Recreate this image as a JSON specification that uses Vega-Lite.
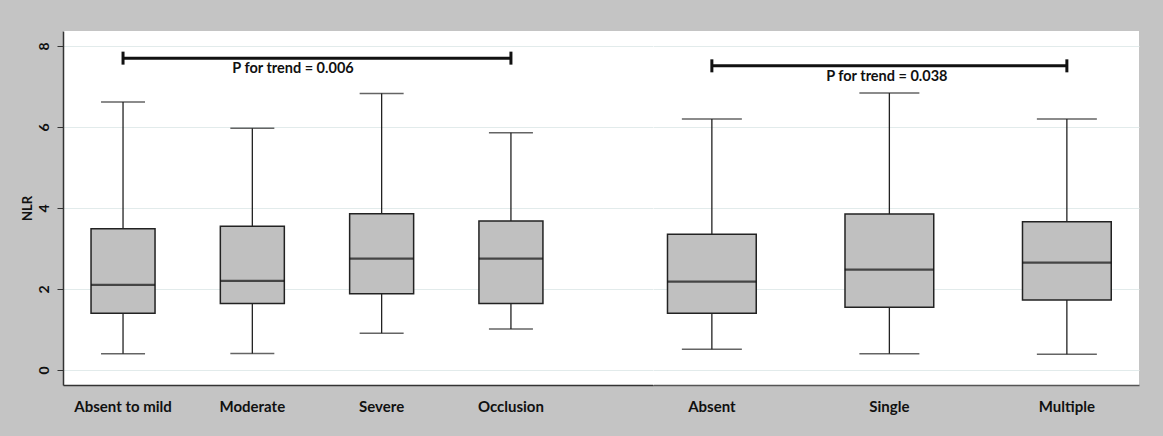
{
  "$schema": "https://vega.github.io/schema/vega-lite/v6.json",
  "background": "#c4c4c4",
  "padding": {"left": 21, "top": 31, "right": 29, "bottom": 22},
  "spacing": 0,
  "config": {
    "font": "Lato",
    "view": {"stroke": null, "fill": "white"},
    "axis": {
      "labelFont": "Lato", "labelFontWeight": "bold", "labelFontSize": 15, "labelColor": "#111",
      "titleFont": "Lato", "titleFontWeight": "bold", "titleFontSize": 13, "titleColor": "#111",
      "gridColor": "#e2ebeb", "gridWidth": 1, "domainColor": "#333", "domainWidth": 1.5,
      "tickColor": "#333", "tickWidth": 1
    }
  },
  "datasets": {
    "stenosis": [
      {"group": "Absent to mild", "min": 0.40, "q1": 1.40, "median": 2.10, "q3": 3.49, "max": 6.62},
      {"group": "Moderate", "min": 0.41, "q1": 1.64, "median": 2.20, "q3": 3.55, "max": 5.97},
      {"group": "Severe", "min": 0.91, "q1": 1.88, "median": 2.75, "q3": 3.86, "max": 6.83},
      {"group": "Occlusion", "min": 1.01, "q1": 1.64, "median": 2.75, "q3": 3.68, "max": 5.86}
    ],
    "lesions": [
      {"group": "Absent", "min": 0.51, "q1": 1.40, "median": 2.18, "q3": 3.35, "max": 6.20},
      {"group": "Single", "min": 0.40, "q1": 1.55, "median": 2.48, "q3": 3.85, "max": 6.84},
      {"group": "Multiple", "min": 0.39, "q1": 1.73, "median": 2.65, "q3": 3.66, "max": 6.20}
    ],
    "trend1": [{"from": "Absent to mild", "to": "Occlusion", "y": 7.70, "label": "P for trend = 0.006"}],
    "trend2": [{"from": "Absent", "to": "Multiple", "y": 7.51, "label": "P for trend = 0.038"}]
  },
  "hconcat": [
    {
      "width": 590,
      "height": 354,
      "layer": [
        {
          "data": {"name": "stenosis"},
          "mark": {"type": "rule", "color": "#222", "strokeWidth": 1.3},
          "encoding": {
            "x": {"field": "group", "type": "nominal", "title": null,
                  "scale": {"domain": ["Absent to mild", "Moderate", "Severe", "Occlusion"], "paddingInner": 0.505, "paddingOuter": 0.534, "align": 0.203},
                  "axis": {"labelAngle": 0, "ticks": false, "labelPadding": 14, "grid": false}},
            "y": {"field": "min", "type": "quantitative", "title": "NLR",
                  "scale": {"domain": [-0.37, 8.37], "nice": false, "zero": false},
                  "axis": {"values": [0, 2, 4, 6, 8], "labelAngle": 270, "labelAlign": "center", "labelBaseline": "alphabetic", "labelPadding": 9, "labelFontSize": 14, "tickSize": 6, "titlePadding": 3, "grid": true}},
            "y2": {"field": "max"}
          }
        },
        {
          "data": {"name": "stenosis"},
          "mark": {"type": "tick", "color": "#222", "size": 44, "thickness": 1.5},
          "encoding": {
            "x": {"field": "group", "type": "nominal", "title": null, "scale": {"domain": ["Absent to mild", "Moderate", "Severe", "Occlusion"]}},
            "y": {"field": "min", "type": "quantitative", "title": "NLR"}
          }
        },
        {
          "data": {"name": "stenosis"},
          "mark": {"type": "tick", "color": "#222", "size": 44, "thickness": 1.5},
          "encoding": {
            "x": {"field": "group", "type": "nominal", "title": null, "scale": {"domain": ["Absent to mild", "Moderate", "Severe", "Occlusion"]}},
            "y": {"field": "max", "type": "quantitative", "title": "NLR"}
          }
        },
        {
          "data": {"name": "stenosis"},
          "mark": {"type": "bar", "fill": "#c0c0c0", "stroke": "#222", "strokeWidth": 1.5},
          "encoding": {
            "x": {"field": "group", "type": "nominal", "title": null, "scale": {"domain": ["Absent to mild", "Moderate", "Severe", "Occlusion"]}},
            "y": {"field": "q1", "type": "quantitative", "title": "NLR"},
            "y2": {"field": "q3"}
          }
        },
        {
          "data": {"name": "stenosis"},
          "mark": {"type": "tick", "color": "#111", "size": 64, "thickness": 2.2},
          "encoding": {
            "x": {"field": "group", "type": "nominal", "title": null, "scale": {"domain": ["Absent to mild", "Moderate", "Severe", "Occlusion"]}},
            "y": {"field": "median", "type": "quantitative", "title": "NLR"}
          }
        },
        {
          "data": {"name": "trend1"},
          "mark": {"type": "rule", "color": "#111", "strokeWidth": 3},
          "encoding": {
            "x": {"field": "from", "type": "nominal", "title": null, "scale": {"domain": ["Absent to mild", "Moderate", "Severe", "Occlusion"]}},
            "x2": {"field": "to"},
            "y": {"field": "y", "type": "quantitative", "title": "NLR"}
          }
        },
        {
          "data": {"name": "trend1"},
          "mark": {"type": "rule", "color": "#111", "strokeWidth": 3, "yOffset": -6.5, "y2Offset": 6.5},
          "encoding": {
            "x": {"field": "from", "type": "nominal", "title": null, "scale": {"domain": ["Absent to mild", "Moderate", "Severe", "Occlusion"]}},
            "y": {"field": "y", "type": "quantitative", "title": "NLR"},
            "y2": {"field": "y"}
          }
        },
        {
          "data": {"name": "trend1"},
          "mark": {"type": "rule", "color": "#111", "strokeWidth": 3, "yOffset": -6.5, "y2Offset": 6.5},
          "encoding": {
            "x": {"field": "to", "type": "nominal", "title": null, "scale": {"domain": ["Absent to mild", "Moderate", "Severe", "Occlusion"]}},
            "y": {"field": "y", "type": "quantitative", "title": "NLR"},
            "y2": {"field": "y"}
          }
        },
        {
          "data": {"name": "trend1"},
          "mark": {"type": "text", "font": "Lato", "fontWeight": "bold", "fontSize": 14.5, "color": "#111", "align": "center", "baseline": "middle", "dx": 170, "dy": 11},
          "encoding": {
            "x": {"field": "from", "type": "nominal", "title": null, "scale": {"domain": ["Absent to mild", "Moderate", "Severe", "Occlusion"]}},
            "y": {"field": "y", "type": "quantitative", "title": "NLR"},
            "text": {"field": "label"}
          }
        }
      ]
    },
    {
      "width": 486,
      "height": 354,
      "layer": [
        {
          "data": {"name": "lesions"},
          "mark": {"type": "rule", "color": "#222", "strokeWidth": 1.3},
          "encoding": {
            "x": {"field": "group", "type": "nominal", "title": null,
                  "scale": {"domain": ["Absent", "Single", "Multiple"], "paddingInner": 0.5, "paddingOuter": 0.119, "align": 0.343},
                  "axis": {"labelAngle": 0, "ticks": false, "labelPadding": 14, "grid": false, "domainColor": "#555"}},
            "y": {"field": "min", "type": "quantitative", "title": null,
                  "scale": {"domain": [-0.37, 8.37], "nice": false, "zero": false},
                  "axis": {"values": [0, 2, 4, 6, 8], "labels": false, "ticks": false, "domain": false, "grid": true}},
            "y2": {"field": "max"}
          }
        },
        {
          "data": {"name": "lesions"},
          "mark": {"type": "tick", "color": "#222", "size": 60, "thickness": 1.5},
          "encoding": {
            "x": {"field": "group", "type": "nominal", "title": null, "scale": {"domain": ["Absent", "Single", "Multiple"]}},
            "y": {"field": "min", "type": "quantitative", "title": null}
          }
        },
        {
          "data": {"name": "lesions"},
          "mark": {"type": "tick", "color": "#222", "size": 60, "thickness": 1.5},
          "encoding": {
            "x": {"field": "group", "type": "nominal", "title": null, "scale": {"domain": ["Absent", "Single", "Multiple"]}},
            "y": {"field": "max", "type": "quantitative", "title": null}
          }
        },
        {
          "data": {"name": "lesions"},
          "mark": {"type": "bar", "fill": "#c0c0c0", "stroke": "#222", "strokeWidth": 1.5},
          "encoding": {
            "x": {"field": "group", "type": "nominal", "title": null, "scale": {"domain": ["Absent", "Single", "Multiple"]}},
            "y": {"field": "q1", "type": "quantitative", "title": null},
            "y2": {"field": "q3"}
          }
        },
        {
          "data": {"name": "lesions"},
          "mark": {"type": "tick", "color": "#111", "size": 89, "thickness": 2.2},
          "encoding": {
            "x": {"field": "group", "type": "nominal", "title": null, "scale": {"domain": ["Absent", "Single", "Multiple"]}},
            "y": {"field": "median", "type": "quantitative", "title": null}
          }
        },
        {
          "data": {"name": "trend2"},
          "mark": {"type": "rule", "color": "#111", "strokeWidth": 3},
          "encoding": {
            "x": {"field": "from", "type": "nominal", "title": null, "scale": {"domain": ["Absent", "Single", "Multiple"]}},
            "x2": {"field": "to"},
            "y": {"field": "y", "type": "quantitative", "title": null}
          }
        },
        {
          "data": {"name": "trend2"},
          "mark": {"type": "rule", "color": "#111", "strokeWidth": 3, "yOffset": -6.5, "y2Offset": 6.5},
          "encoding": {
            "x": {"field": "from", "type": "nominal", "title": null, "scale": {"domain": ["Absent", "Single", "Multiple"]}},
            "y": {"field": "y", "type": "quantitative", "title": null},
            "y2": {"field": "y"}
          }
        },
        {
          "data": {"name": "trend2"},
          "mark": {"type": "rule", "color": "#111", "strokeWidth": 3, "yOffset": -6.5, "y2Offset": 6.5},
          "encoding": {
            "x": {"field": "to", "type": "nominal", "title": null, "scale": {"domain": ["Absent", "Single", "Multiple"]}},
            "y": {"field": "y", "type": "quantitative", "title": null},
            "y2": {"field": "y"}
          }
        },
        {
          "data": {"name": "trend2"},
          "mark": {"type": "text", "font": "Lato", "fontWeight": "bold", "fontSize": 14.5, "color": "#111", "align": "center", "baseline": "middle", "dx": 175, "dy": 11},
          "encoding": {
            "x": {"field": "from", "type": "nominal", "title": null, "scale": {"domain": ["Absent", "Single", "Multiple"]}},
            "y": {"field": "y", "type": "quantitative", "title": null},
            "text": {"field": "label"}
          }
        }
      ]
    }
  ]
}
